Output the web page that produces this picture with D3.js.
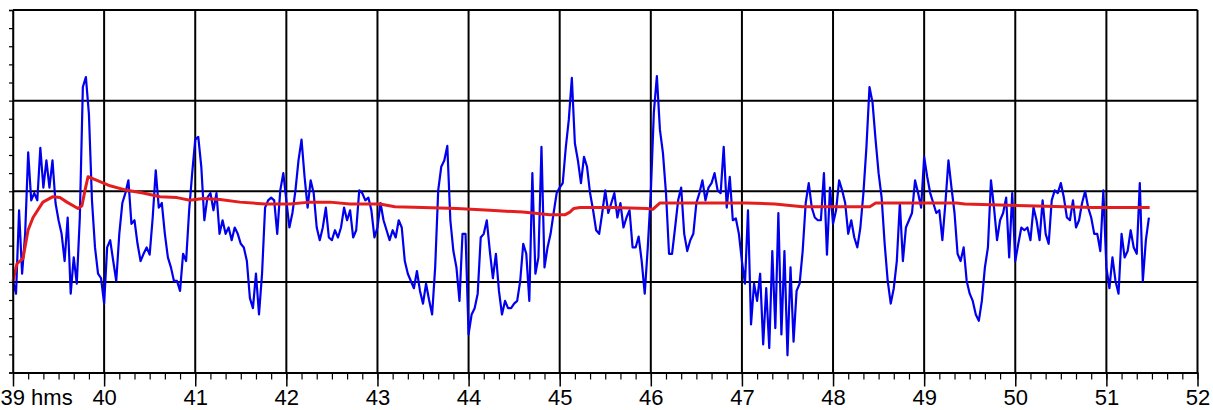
<!DOCTYPE html>
<html><head><meta charset="utf-8">
<script src="https://cdn.jsdelivr.net/npm/d3@7"></script>
<style>html,body{margin:0;padding:0;background:#fff;overflow:hidden}svg{display:block}</style>
</head><body><svg id="chart" width="1213" height="410"></svg>
<script>
// ---- data ----
const startMinute = 39;
const sampleStepSeconds = 2;
const signalValues = [
 -9.9,-11.3,-2.1,-9.1,-4.7,4.3,-1.0,-0.2,-1.0,4.8,
 0.4,3.4,0.4,3.4,-1.3,-3.2,-4.7,-7.7,-2.9,-11.3,
 -7.3,-10.2,-2.9,11.5,12.6,8.5,-1.0,-6.2,-9.1,-9.6,
 -12.4,-6.2,-5.4,-7.7,-9.9,-4.7,-1.3,-0.2,1.2,-3.6,
 -3.2,-5.8,-7.7,-6.9,-6.2,-7.0,-2.9,2.3,-1.8,-1.3,
 -4.7,-7.3,-8.4,-9.9,-9.9,-11.0,-6.9,-7.7,-2.1,2.0,
 5.7,6.0,2.7,-3.2,-0.7,-0.2,-2.1,-0.2,-4.7,-3.2,
 -4.7,-4.0,-5.4,-4.0,-4.7,-5.8,-6.2,-7.7,-11.8,-12.9,
 -9.1,-13.6,-9.1,-1.8,-1.0,-0.7,-1.0,-4.7,0.1,2.0,
 -1.0,-4.0,-2.4,0.1,3.4,5.7,1.6,-1.8,1.2,-0.2,
 -4.0,-5.4,-4.0,-1.8,-5.1,-5.4,-4.3,-5.1,-4.0,-1.8,
 -3.2,-2.1,-5.1,-4.3,0.1,-0.2,-1.0,-0.7,-2.1,-5.1,
 -4.0,-1.3,-3.2,-4.3,-5.4,-4.3,-5.1,-3.2,-4.0,-7.7,
 -9.1,-9.9,-10.7,-8.8,-11.0,-12.4,-10.2,-12.0,-13.6,-8.4,
 0.1,2.7,3.4,5.0,-3.2,-6.6,-8.4,-12.1,-4.7,-4.7,
 -15.8,-13.6,-12.9,-11.3,-5.1,-4.7,-3.2,-6.6,-9.6,-6.9,
 -11.0,-13.6,-12.1,-12.9,-12.9,-12.4,-12.1,-9.9,-5.8,-6.9,
 -12.1,2.0,-9.1,-7.3,4.9,-8.4,-6.2,-4.7,-2.4,-0.2,
 0.4,0.9,4.8,7.9,12.5,5.3,3.4,0.9,3.8,2.7,
 -0.2,-2.1,-4.3,-4.7,-2.4,0.1,-2.4,-1.3,-0.2,-2.9,
 -1.3,-4.0,-2.9,-2.1,-6.2,-6.2,-5.0,-7.7,-11.3,-6.2,
 -0.2,8.7,12.7,6.8,4.2,-0.2,-6.9,-6.9,-4.0,-1.0,
 0.4,-4.7,-6.6,-5.4,-4.7,-1.3,-0.2,1.2,-1.0,0.4,
 0.9,2.0,0.1,-0.2,4.9,-1.8,1.6,-3.2,-3.0,-4.7,
 -7.7,-10.2,-2.1,-14.7,-10.2,-12.1,-9.1,-16.9,-10.7,-17.3,
 -6.6,-15.1,-2.4,-15.8,-6.6,-18.1,-8.4,-16.6,-11.0,-10.2,
 -6.6,-1.3,0.9,-1.8,-2.9,-3.2,-3.2,2.0,-7.0,0.4,
 -3.6,-2.1,1.2,0.1,-1.3,-4.7,-3.2,-5.1,-6.2,-4.0,
 -0.2,4.9,11.5,9.8,5.7,2.0,-0.7,-5.8,-9.9,-12.4,
 -10.7,-7.7,-1.3,-7.7,-4.0,-3.2,-2.4,1.2,-0.2,-1.8,
 3.8,1.6,-0.2,-1.3,-2.4,-2.1,-5.4,-1.3,3.4,0.4,
 -2.4,-6.9,-7.7,-6.2,-9.9,-11.3,-12.1,-13.6,-14.3,-12.1,
 -8.4,-6.2,1.2,-1.8,-5.4,-3.2,-2.4,-0.7,-7.3,-0.2,
 -7.7,-5.8,-4.0,-4.3,-4.0,-5.4,-1.8,-3.2,-5.4,-1.0,
 -4.7,-5.8,-1.0,0.1,-0.2,0.9,-0.7,-2.9,-3.2,-1.0,
 -4.0,-3.2,-1.3,0.0,-1.8,-2.9,-4.7,-4.7,-6.6,0.1,
 -8.4,-10.7,-7.3,-9.9,-11.3,-4.7,-7.3,-6.6,-4.3,-6.2,
 -6.9,0.9,-9.9,-5.4,-2.9
];
const averageSeconds = [0,2.6,6.6,9.9,13.2,19.7,26.3,30.9,35.5,42.8,45.4,47.4,49.4,55.3,63.9,75,85.6,96.8,108,116.5,
 125.1,136.3,149.4,165.9,182.3,195.5,208.7,221.8,241.6,251.5,269.9,292.3,314,335.7,353.5,363.4,366.7,369.3,373.3,395,
 417.4,421.3,425.9,452.3,483.2,501.6,520,542.5,564.2,568.1,585.9,621.4,626.7,667.5,711,748.5];
const averageValues = [-9.9,-8.0,-7.4,-4.3,-2.9,-1.2,-0.6,-0.7,-1.2,-1.9,-1.6,0.1,1.6,1.2,0.6,0.1,-0.2,-0.6,-0.7,-1.0,
 -0.8,-0.9,-1.2,-1.4,-1.4,-1.2,-1.2,-1.4,-1.4,-1.7,-1.8,-1.9,-2.1,-2.3,-2.6,-2.6,-2.3,-1.9,-1.8,-1.8,
 -1.9,-2.0,-1.3,-1.3,-1.3,-1.4,-1.7,-1.7,-1.7,-1.3,-1.3,-1.3,-1.4,-1.6,-1.8,-1.8];
const xTickValues = [39,40,41,42,43,44,45,46,47,48,49,50,51,52];
const xTickLabels = ["39 hms","40","41","42","43","44","45","46","47","48","49","50","51","52"];
const xMinorStep = 1/6;
const yGridValues = [-10,0,10,20];
const yMinorStep = 2;

// ---- chart ----
const svg = d3.select("#chart");
const x = d3.scaleLinear().domain([39,52]).range([13,1197.5]);
const y = d3.scaleLinear().domain([-20,20]).range([372.5,10]);

const signal = signalValues.map((v,i)=>({t:startMinute + i*sampleStepSeconds/60, v}));
const average = averageSeconds.map((s,i)=>({t:startMinute + s/60, v:averageValues[i]}));

// grid
const grid = svg.append("g");
grid.selectAll("line.v").data(xTickValues).join("line")
  .attr("x1",d=>x(d)).attr("x2",d=>x(d)).attr("y1",y(20)).attr("y2",y(-20))
  .attr("stroke","#000").attr("stroke-width",d=>d===39?1.5:2);
grid.selectAll("line.h").data(yGridValues).join("line")
  .attr("x1",x(39)).attr("x2",x(52)).attr("y1",d=>y(d)).attr("y2",d=>y(d))
  .attr("stroke","#000").attr("stroke-width",2);

// series
const line = d3.line().x(d=>x(d.t)).y(d=>y(d.v));
svg.append("path").datum(signal).attr("d",line)
  .attr("fill","none").attr("stroke","#0000ee").attr("stroke-width",2.2).attr("stroke-linejoin","round");
svg.append("path").datum(average).attr("d",line)
  .attr("fill","none").attr("stroke","#e41e1e").attr("stroke-width",3).attr("stroke-linejoin","round");

// left minor ticks
const yAxis = d3.axisLeft(y).tickValues(d3.range(-20,20.01,yMinorStep)).tickSize(4).tickFormat("");
const ya = svg.append("g").attr("transform",`translate(${x(39)},0)`).call(yAxis);
ya.select(".domain").attr("stroke","#000").attr("stroke-width",1.5);
ya.selectAll(".tick line").attr("stroke","#000").attr("stroke-width",1.2);

// bottom axis
const minorTicks = d3.range(0, 13*6+1).map(k=>39 + k*xMinorStep);
const xMinor = d3.axisBottom(x).tickValues(minorTicks).tickSize(7).tickFormat("").tickSizeOuter(0);
const xm = svg.append("g").attr("transform",`translate(0,${y(-20)})`).call(xMinor);
xm.select(".domain").attr("stroke","#000").attr("stroke-width",2);
xm.selectAll(".tick line").attr("stroke","#000").attr("stroke-width",1.2);

const xMajor = d3.axisBottom(x).tickValues(xTickValues).tickSize(14).tickSizeOuter(0)
  .tickFormat((d,i)=>xTickLabels[i]).tickPadding(4);
const xM = svg.append("g").attr("transform",`translate(0,${y(-20)})`).call(xMajor);
xM.select(".domain").remove();
xM.selectAll(".tick line").attr("stroke","#000").attr("stroke-width",1.5);
xM.selectAll(".tick text")
  .attr("fill","#000")
  .style("font-family","'Liberation Sans', Arial, Helvetica, sans-serif")
  .style("font-size","22px")
  .attr("dy",null).attr("y",32.5)
  .attr("text-anchor",(d,i)=>i===0?"start":"middle")
  .attr("x",(d,i)=>i===0?-13:0);
</script></body></html>
